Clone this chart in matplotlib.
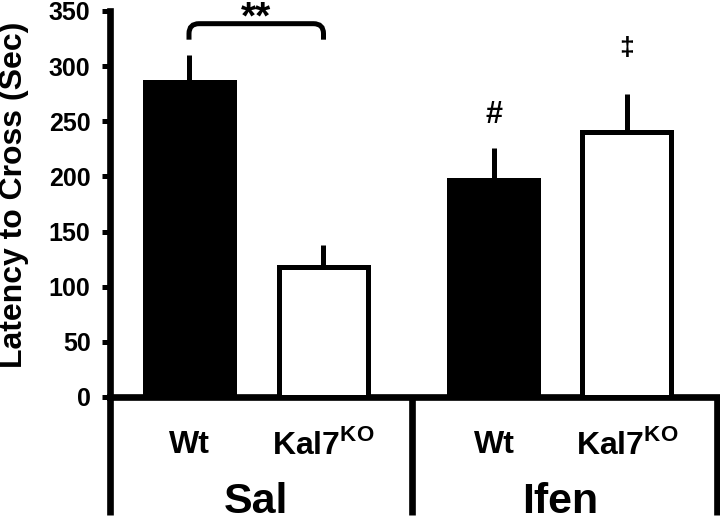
import matplotlib.pyplot as plt
from matplotlib.path import Path
from matplotlib.patches import PathPatch

plt.rcParams['font.family'] = ['Liberation Sans', 'DejaVu Sans']
plt.rcParams['font.weight'] = 'bold'
plt.rcParams['mathtext.fontset'] = 'custom'
plt.rcParams['mathtext.rm'] = 'Liberation Sans'
plt.rcParams['mathtext.bf'] = 'Liberation Sans:bold'

# data
genotypes = ['Wt', 'Kal7$^{\\mathrm{KO}}$', 'Wt', 'Kal7$^{\\mathrm{KO}}$']
treatments = ['Sal', 'Ifen']
latency = [286, 118, 197, 240]
sem = [24, 20, 29, 35]
fills = ['black', 'white', 'black', 'white']
marks = ['', '', '#', '\u2021']
mark_y = [0, 0, 248, 316]

xpos = [0.79, 2.135, 3.84, 5.17]
lw = 3.6
slw = 4.8

fig = plt.figure(figsize=(7.2, 5.26), dpi=100)
ax = fig.add_axes([110/720, 1-397/526, 607/720, 386/526])

ax.bar(xpos, latency, width=0.89, color=fills, edgecolor='black', linewidth=lw, zorder=3)
ax.errorbar(xpos, latency, yerr=[[0]*4, sem], fmt='none', ecolor='black',
            elinewidth=lw, capsize=0, zorder=2)

ax.set_xlim(0, 6.07)
ax.set_ylim(0, 350)
ax.set_yticks(range(0, 351, 50))
ax.set_xticks([])
ax.spines['top'].set_visible(False)
ax.spines['right'].set_visible(False)
for s in ['left', 'bottom']:
    ax.spines[s].set_linewidth(slw)
ax.tick_params(axis='y', length=6, width=lw, labelsize=18, pad=8)
for t in ax.get_yticklabels():
    t.set_fontweight('bold')
fig.text(14/720, 1-195/526, 'Latency to Cross (Sec)', rotation=90, ha='center',
         va='center', fontsize=23, fontweight='bold')

# group brackets below the axis
for xv in [0, 3.02, 6.07]:
    ax.plot([xv, xv], [0, -107], color='black', lw=slw, clip_on=False, solid_capstyle='butt')

for x, g in zip(xpos, genotypes):
    ax.text(x, -43.5, g, ha='center', va='center', fontsize=23, fontweight='bold')
ax.text((xpos[0] + xpos[1]) / 2, -95, treatments[0], ha='center', va='center',
        fontsize=31, fontweight='bold')
ax.text((xpos[2] + xpos[3]) / 2, -95, treatments[1], ha='center', va='center',
        fontsize=31, fontweight='bold')

# significance bracket
x0, x1 = xpos[0], xpos[1]
yb, yt = 324, 338.5
rx, ry = 0.1, 9
verts = [(x0, yb), (x0, yt - ry), (x0, yt), (x0 + rx, yt), (x1 - rx, yt),
         (x1, yt), (x1, yt - ry), (x1, yb)]
codes = [Path.MOVETO, Path.LINETO, Path.CURVE3, Path.CURVE3, Path.LINETO,
         Path.CURVE3, Path.CURVE3, Path.LINETO]
ax.add_patch(PathPatch(Path(verts, codes), fill=False, lw=lw, clip_on=False))
ax.text((x0 + x1) / 2, 334, '**', ha='center', va='baseline', fontsize=28,
        fontweight='bold', clip_on=False)

for x, m, my in zip(xpos, marks, mark_y):
    if m == '#':
        ax.text(x, my, m, ha='center', va='baseline', fontsize=22, fontweight='bold')
    elif m:
        ax.text(x, my, m, ha='center', va='center', fontsize=19, fontweight='bold')

fig.savefig('out.png', dpi=100)
